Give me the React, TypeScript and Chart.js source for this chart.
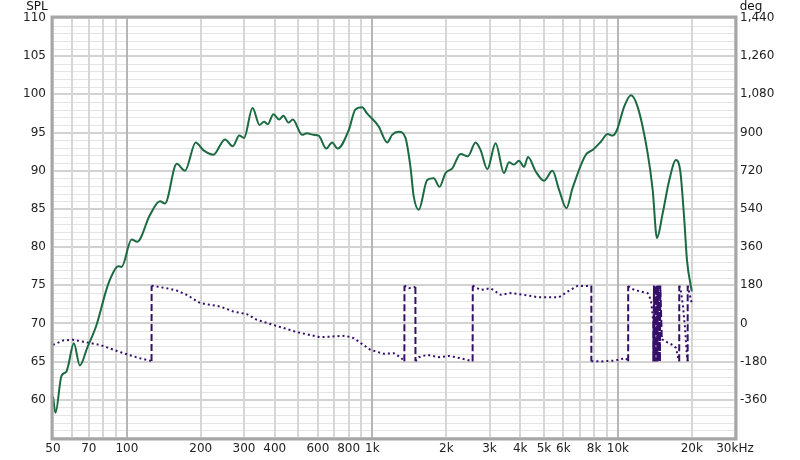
import React, { useEffect, useRef } from "react";
import { Chart, registerables } from "chart.js";

Chart.register(...registerables);

// Frequency response (SPL, dB)
const splFreq = [
  50, 51.2, 54.1, 56.7, 57.6, 60.8, 64.3, 68.9, 75.2, 82.1, 85.2, 92.1, 95.1, 104.5, 110.2,
  124.1, 136.4, 142.9, 159.6, 172.5, 190.7, 204.8, 225, 251, 270, 287, 300, 325, 347, 362,
  375, 395, 417, 434, 455, 474, 517, 541, 576, 604, 649, 685, 722, 801, 852, 908, 951,
  1061, 1148, 1203, 1281, 1364, 1429, 1474, 1545, 1673, 1779, 1877, 1986, 2115, 2287,
  2449, 2633, 2759, 2939, 3177, 3436, 3601, 3773, 3955, 4146, 4305, 4627, 5003, 5415,
  5761, 6174, 6534, 7402, 7882, 8524, 9078, 9515, 9906, 10610, 11300, 12030, 13220,
  13860, 14430, 15220, 16200, 17250, 17960, 18640, 19120, 20000,
];
const splValues = [
  60.4, 58.3, 63.1, 63.7, 64.4, 67.4, 64.5, 66.8, 69.8, 74.2, 75.7, 77.5, 77.4, 81.0, 80.7,
  84.2, 86.0, 85.7, 90.9, 90.0, 93.7, 92.7, 92.1, 94.1, 93.2, 94.6, 94.3, 98.2, 96.0, 96.4,
  96.1, 97.4, 96.7, 97.2, 96.3, 96.7, 94.7, 94.9, 94.7, 94.6, 92.9, 93.7, 92.9, 95.3, 98.0, 98.3, 97.5,
  95.8, 93.7, 94.7, 95.1, 94.3, 90.5, 86.6, 84.9, 88.8, 89.0, 87.9, 89.7, 90.3, 92.2,
  91.9, 93.7, 92.7, 90.2, 93.6, 89.7, 91.1, 90.8, 91.3, 90.5, 91.8, 89.9, 88.7, 90.0,
  87.5, 85.1, 87.7, 92.1, 92.7, 93.8, 94.8, 94.6, 95.3, 98.4, 99.9, 98.4, 92.3,
  87.5, 81.2, 84.4, 88.8, 91.4, 89.9, 83.6, 78.3, 74.2,
];

// Wrapped phase (deg)
const phaseFreq = [
  50, 55, 60.4, 77.6, 96.6, 113, 126, 126.1, 145.2, 159.6, 175.3, 198.6, 239.7, 271.6, 308.1,
  338.4, 395.5, 492.8, 613.6, 674.1, 775.9, 838.9, 981.3, 1112, 1222, 1301, 1350, 1351,
  1407, 1497, 1498, 1545, 1673, 1865, 2049, 2287, 2560, 2564, 2759, 3031, 3331, 3659,
  4146, 4701, 5328, 5761, 6232, 6847, 7637, 7797, 7798, 8524, 9658, 10285, 10780, 11014,
  11015, 11655, 13220, 13635, 13860, 13930,
  13940, 14030, 14120, 14210, 14300, 14390, 14480, 14570, 14660, 14750, 14840, 14890,
  15100, 15500, 15960, 16730, 17250, 17620, 17780, 17790, 18080, 18420,
  18770, 19100, 19240, 19250, 19580, 20000,
];
const phaseValues = [
  -101, -80, -77, -101, -140, -164, -177, 178, 166, 155, 135, 96, 80, 56, 44,
  17, -7, -41, -65, -62, -58, -69, -124, -143, -140, -159, -178, 178,
  166, 172, -178, -159, -148, -159, -153, -164, -178, 178, 158, 166, 135, 143,
  135, 124, 124, 124, 150, 177, 177, 178, -178, -179, -175, -168, -164, -178,
  176, 158, 143, 111, 40, 10,
  -179, 179, -179, 179, -179, 179, -179, 179, -179, 179, -179, 179,
  -75, -80, -90, -102, -116, -164, -178, 178, 150, 80,
  -20, -150, -178, 178, 140, 96,
];

const xTickValues = [
  50, 60, 70, 80, 90, 100, 200, 300, 400, 500, 600, 700, 800, 900, 1000, 2000, 3000, 4000,
  5000, 6000, 7000, 8000, 9000, 10000, 20000, 30000,
];
const xDecades = [100, 1000, 10000];
const xTickLabels: Record<number, string> = {
  50: "50", 70: "70", 100: "100", 200: "200", 300: "300", 400: "400", 600: "600", 800: "800",
  1000: "1k", 2000: "2k", 3000: "3k", 4000: "4k", 5000: "5k", 6000: "6k", 8000: "8k",
  10000: "10k", 20000: "20k", 30000: "30kHz",
};

const FONT = "'DejaVu Sans', 'Liberation Sans', sans-serif";

const gridPlugin = {
  id: "customGrid",
  beforeDatasetsDraw(chart: any) {
    const { ctx, chartArea, scales } = chart;
    const { left, top, right, bottom } = chartArea;
    const xs = scales.x;
    const ys = scales.y;
    ctx.save();
    ctx.setLineDash([]);
    ys.ticks.forEach((t: any) => {
      const v = t.value;
      if (v % 5 === 0) return;
      const py = Math.round(ys.getPixelForValue(v)) + 0.5;
      ctx.strokeStyle = "#e4e4e4";
      ctx.lineWidth = 1;
      ctx.beginPath();
      ctx.moveTo(left, py);
      ctx.lineTo(right, py);
      ctx.stroke();
    });
    ys.ticks.forEach((t: any) => {
      const v = t.value;
      if (v % 5 !== 0) return;
      const py = Math.round(ys.getPixelForValue(v));
      ctx.strokeStyle = "#d2d2d2";
      ctx.lineWidth = 2;
      ctx.beginPath();
      ctx.moveTo(left, py);
      ctx.lineTo(right, py);
      ctx.stroke();
    });
    xs.ticks.forEach((t: any) => {
      const v = t.value;
      const dec = xDecades.includes(v);
      const px = Math.round(xs.getPixelForValue(v));
      ctx.strokeStyle = dec ? "#b6b6b6" : "#d6d6d6";
      ctx.lineWidth = 2;
      ctx.beginPath();
      ctx.moveTo(px, top);
      ctx.lineTo(px, bottom);
      ctx.stroke();
    });
    ctx.restore();
  },
  afterDraw(chart: any) {
    const { ctx, chartArea } = chart;
    const { left, top, right, bottom } = chartArea;
    ctx.save();
    ctx.setLineDash([]);
    ctx.strokeStyle = "#a6a6a6";
    ctx.lineWidth = 3;
    ctx.strokeRect(left - 1, top - 1, right - left + 2, bottom - top + 2);
    ctx.fillStyle = "#111";
    ctx.font = "12px " + FONT;
    ctx.textAlign = "center";
    ctx.textBaseline = "middle";
    ctx.fillText("SPL", 37, 7);
    ctx.fillText("deg", 751, 7);
    ctx.restore();
  },
};

export default function App() {
  const ref = useRef<HTMLCanvasElement | null>(null);
  useEffect(() => {
    document.body.style.margin = "0";
    const canvas = ref.current;
    if (!canvas) return;
    const splData = splFreq.map((f, i) => ({ x: f, y: splValues[i] }));
    const phaseData = phaseFreq.map((f, i) => ({ x: f, y: phaseValues[i] }));
    const chart = new Chart(canvas, {
      type: "line",
      data: {
        datasets: [
          {
            label: "SPL",
            data: splData,
            yAxisID: "y",
            borderColor: "#1b6a42",
            borderWidth: 2,
            pointRadius: 0,
            cubicInterpolationMode: "monotone",
            fill: false,
          },
          {
            label: "Phase",
            data: phaseData,
            yAxisID: "y2",
            borderColor: "#35106a",
            borderWidth: 2,
            pointRadius: 0,
            tension: 0,
            fill: false,
            borderDash: [2, 3],
            segment: {
              borderDash: (c: any) =>
                Math.abs(c.p1.parsed.y - c.p0.parsed.y) > 180 ? [7, 3] : [2, 3],
            },
          },
        ],
      },
      options: {
        responsive: false,
        animation: false,
        events: [],
        layout: { padding: { top: 18, left: 0, right: 0, bottom: 0 } },
        plugins: { legend: { display: false }, tooltip: { enabled: false } },
        scales: {
          x: {
            type: "logarithmic",
            min: 50,
            max: 30000,
            afterBuildTicks: (axis: any) => {
              axis.ticks = xTickValues.map((v) => ({ value: v }));
            },
            afterFit: (axis: any) => {
              axis.height = 22;
            },
            ticks: {
              autoSkip: false,
              maxRotation: 0,
              padding: 4,
              color: "#222",
              font: { family: FONT, size: 12 },
              callback: (v: any) => xTickLabels[Number(v)] ?? "",
            },
            grid: { display: false, drawTicks: false },
            border: { display: false },
          },
          y: {
            type: "linear",
            position: "left",
            min: 55,
            max: 110,
            afterFit: (axis: any) => {
              axis.width = 53;
            },
            ticks: {
              stepSize: 1,
              autoSkip: false,
              padding: 7,
              color: "#222",
              font: { family: FONT, size: 12 },
              callback: (v: any) => (Number(v) % 5 === 0 && Number(v) >= 60 ? String(v) : ""),
            },
            grid: { display: false, drawTicks: false },
            border: { display: false },
          },
          y2: {
            type: "linear",
            position: "right",
            min: -540,
            max: 1440,
            afterFit: (axis: any) => {
              axis.width = 65;
            },
            ticks: {
              stepSize: 180,
              autoSkip: false,
              padding: 5,
              color: "#222",
              font: { family: FONT, size: 12 },
              callback: (v: any) =>
                Number(v) === -540 ? "" : Number(v).toLocaleString("en-US"),
            },
            grid: { display: false, drawOnChartArea: false, drawTicks: false },
            border: { display: false },
          },
        },
      },
      plugins: [gridPlugin],
    } as any);
    return () => chart.destroy();
  }, []);

  return (
    <div style={{ width: 800, height: 460, background: "#fff" }}>
      <canvas ref={ref} width={800} height={460} />
    </div>
  );
}
